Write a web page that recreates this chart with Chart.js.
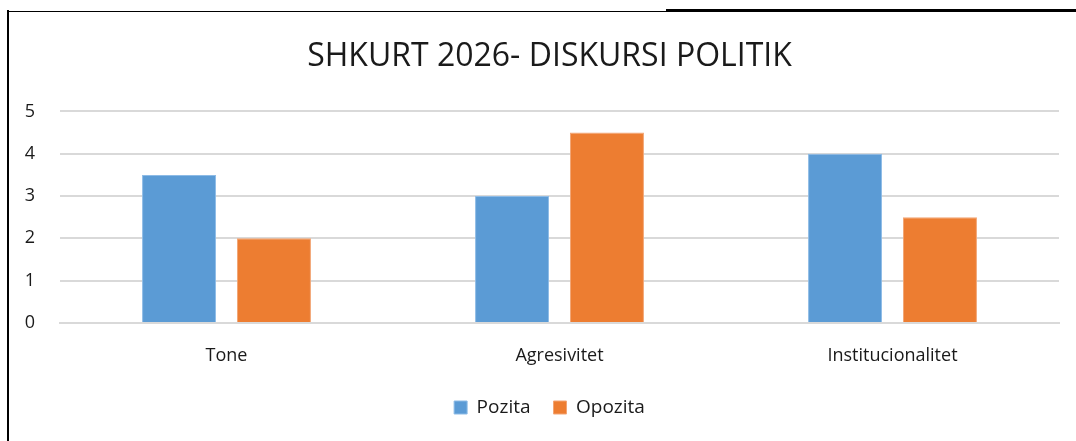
<!DOCTYPE html>
<html>
<head>
<meta charset="utf-8">
<script src="https://cdn.jsdelivr.net/npm/chart.js@4.4.1/dist/chart.umd.min.js"></script>
<style>
  html, body { margin: 0; padding: 0; background: #fff; }
  #wrap { position: relative; width: 1076px; height: 441px; overflow: hidden; }
  #c { position: absolute; left: 0; top: 0; }
  .ln { position: absolute; background: #000; }
</style>
</head>
<body>
<div id="wrap">
  <canvas id="c" width="1076" height="441"></canvas>
  <div class="ln" style="left:7px; top:10px; width:2px; height:431px;"></div>
  <div class="ln" style="left:8px; top:11px; width:658px; height:1px;"></div>
  <div class="ln" style="left:666px; top:9px; width:410px; height:3px;"></div>
</div>
<script>
const titleText = "SHKURT 2026- DISKURSI POLITIK";
const categories = ["Tone", "Agresivitet", "Institucionalitet"];
const seriesNames = ["Pozita", "Opozita"];
const pozitaValues = [3.5, 3, 4];
const opozitaValues = [2, 4.5, 2.5];
const yTicks = [0, 1, 2, 3, 4, 5];

const FONT = "'Open Sans', 'Noto Sans', sans-serif";
const TXT = "#1a1a1a";

// layout helpers: fix legend height and shift title/legend blocks like the reference
const layoutTweak = {
  id: 'layoutTweak',
  afterInit(chart) {
    const lg = chart.legend;
    if (lg) {
      const f = lg.fit;
      lg.fit = function () { f.call(this); this.height = 68; };
    }
  },
  afterLayout(chart) {
    const d = 20;
    [chart.titleBlock, chart.legend].forEach(b => {
      if (b) { b.left += d; b.right += d; }
    });
    if (chart.legend) { chart.legend.top += 2; chart.legend.bottom += 2; }
  }
};

new Chart(document.getElementById('c'), {
  type: 'bar',
  data: {
    labels: categories,
    datasets: [
      { label: seriesNames[0], data: pozitaValues, backgroundColor: '#5b9bd5', borderColor: '#8dbbe6', borderWidth: 1 },
      { label: seriesNames[1], data: opozitaValues, backgroundColor: '#ed7d31', borderColor: '#f3a574', borderWidth: 1 }
    ]
  },
  plugins: [layoutTweak],
  options: {
    responsive: false,
    animation: false,
    devicePixelRatio: 1,
    layout: { padding: { left: 0, right: 17, top: 38, bottom: 0 } },
    datasets: { bar: { categoryPercentage: 0.57, barPercentage: 0.78 } },
    plugins: {
      title: {
        display: true, text: titleText, color: TXT,
        font: { family: FONT, size: 32, weight: 'normal' },
        padding: { top: 0, bottom: 35 }
      },
      legend: {
        position: 'bottom',
        labels: {
          color: TXT, boxWidth: 13, boxHeight: 13, padding: 23,
          font: { family: FONT, size: 19 }
        }
      },
      tooltip: { enabled: false }
    },
    scales: {
      x: {
        afterFit: (s) => { s.height = 50; },
        grid: { display: false },
        border: { display: true, color: '#d9d9d9', width: 2 },
        ticks: { color: TXT, font: { family: FONT, size: 18 }, padding: 14 }
      },
      y: {
        min: 0, max: 5,
        afterFit: (s) => { s.width = 60; },
        afterBuildTicks: (s) => { s.ticks = yTicks.map(v => ({ value: v })); },
        grid: { color: '#d9d9d9', lineWidth: 2, drawTicks: false },
        border: { display: false },
        ticks: { color: TXT, font: { family: FONT, size: 18 }, padding: 25 }
      }
    }
  }
});
</script>
</body>
</html>
